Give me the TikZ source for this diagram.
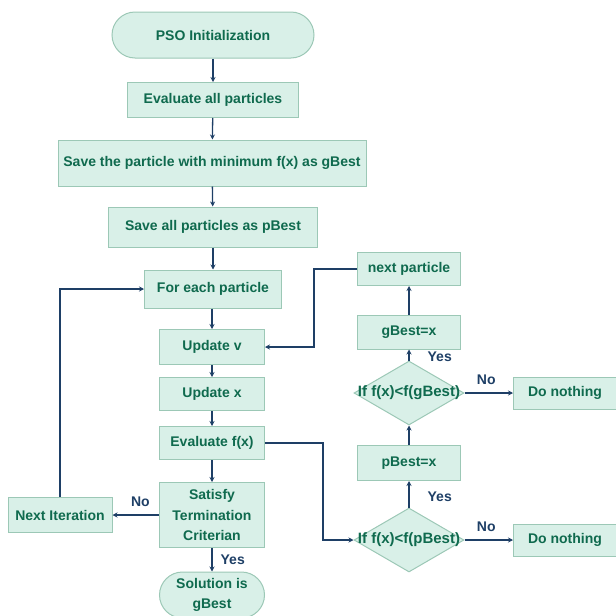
\documentclass[tikz,border=0pt]{standalone}
\usepackage{fontspec}
\setmainfont{Liberation Sans}
\usetikzlibrary{shapes.geometric,shapes.misc,arrows.meta}
\definecolor{boxfill}{HTML}{D9F0E8}
\definecolor{boxline}{HTML}{9CC8B6}
\definecolor{boxtext}{HTML}{0F6A4E}
\definecolor{arrowc}{HTML}{1E3F66}
\begin{document}
\begin{tikzpicture}[x=1pt,y=-1pt,
  base/.style={draw=boxline,fill=boxfill,text=boxtext,line width=1pt,inner sep=0pt,align=center,
    font=\fontsize{14}{20.5}\selectfont\bfseries},
  proc/.style={base,rectangle},
  term/.style={base,rounded rectangle},
  dec/.style={base,diamond},
  dtext/.style={text=boxtext,inner sep=0pt,font=\fontsize{15}{18}\selectfont\bfseries},
  arr/.style={draw=arrowc,line width=1.3pt,-{Stealth[length=5pt,width=5pt]}},
  lab/.style={text=arrowc,inner sep=0pt,font=\fontsize{14}{16}\selectfont\bfseries}]
\useasboundingbox (0,0) rectangle (616,616);

\node[term,minimum width=202pt,minimum height=46pt] (init) at (213,35) {PSO Initialization};
\node[proc,minimum width=171pt,minimum height=35pt] (eva) at (213,100) {Evaluate all particles};
\node[proc,minimum width=308pt,minimum height=46pt] (sg) at (212,163) {Save the particle with minimum f(x) as gBest};
\node[proc,minimum width=209pt,minimum height=40pt] (sp) at (213,227) {Save all particles as pBest};
\node[proc,minimum width=137pt,minimum height=38pt] (fe) at (213,289) {For each particle};
\node[proc,minimum width=105pt,minimum height=35pt] (uv) at (212,347) {Update v};
\node[proc,minimum width=105pt,minimum height=33pt] (ux) at (212,394) {Update x};
\node[proc,minimum width=105pt,minimum height=33pt] (ef) at (212,443) {Evaluate f(x)};
\node[proc,minimum width=105pt,minimum height=65pt] (st) at (212,515) {Satisfy\\Termination\\Criterian};
\node[term,minimum width=105pt,minimum height=46pt] (sol) at (212,595) {Solution is\\gBest};
\node[proc,minimum width=104pt,minimum height=35pt] (ni) at (60,515) {Next Iteration};

\node[proc,minimum width=103pt,minimum height=33pt] (np) at (409,269) {next particle};
\node[proc,minimum width=103pt,minimum height=34pt] (gb) at (409,332) {gBest=x};
\node[dec,minimum width=110pt,minimum height=64pt] (gd) at (409,393) {};
\node[dtext] (gdt) at (gd) {If f(x)<f(gBest)};
\node[proc,minimum width=103pt,minimum height=32pt] (dn1) at (565,393) {Do nothing};
\node[proc,minimum width=103pt,minimum height=35pt] (pb) at (409,463) {pBest=x};
\node[dec,minimum width=110pt,minimum height=64pt] (pd) at (409,540) {};
\node[dtext] (pdt) at (pd) {If f(x)<f(pBest)};
\node[proc,minimum width=103pt,minimum height=32pt] (dn2) at (565,540) {Do nothing};

\draw[arr] (init) -- (eva);
\draw[arr] (eva) -- (sg);
\draw[arr] (sg) -- (sp);
\draw[arr] (sp) -- (fe);
\draw[arr] (fe.south -| uv.north) -- (uv);
\draw[arr] (uv) -- (ux);
\draw[arr] (ux) -- (ef);
\draw[arr] (ef) -- (st);
\draw[arr] (st) -- node[lab,right=8pt,pos=0.5] (ly1) {Yes} (sol);
\draw[arr] (st) -- node[lab,above=8pt,pos=0.4] (ln1) {No} (ni);
\draw[arr] (ni.north) |- (fe.west);
\draw[arr] (np.west) -- ++(-43,0) |- (uv.east);
\draw[arr] (ef.east) -- ++(58,0) |- (pd.west);
\draw[arr] (pd) -- node[lab,right=18pt,pos=0.4] (ly2) {Yes} (pb);
\draw[arr] (pb) -- (gd);
\draw[arr] (gd) -- node[lab,right=18pt,pos=0.3] (ly3) {Yes} (gb);
\draw[arr] (gb) -- (np);
\draw[arr] (gd.east) -- node[lab,above=8pt,pos=0.45] (ln2) {No} (dn1);
\draw[arr] (pd.east) -- node[lab,above=8pt,pos=0.45] (ln3) {No} (dn2);
\end{tikzpicture}
\end{document}
